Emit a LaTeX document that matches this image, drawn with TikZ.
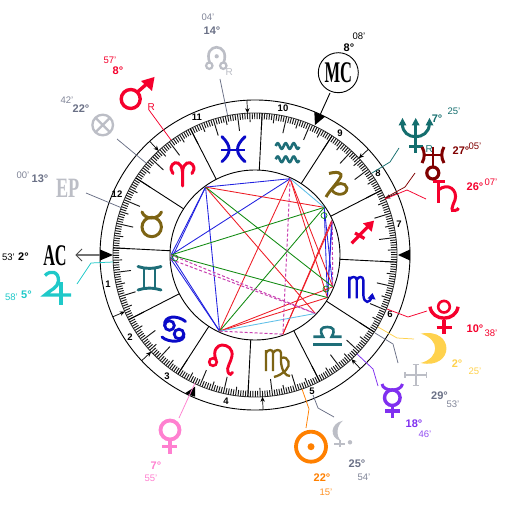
\documentclass[tikz,border=0pt]{standalone}
\usepackage{fontspec}
\setmainfont{Liberation Sans}
\newfontfamily\glyphserif{Liberation Serif}
\usetikzlibrary{arrows.meta}
\definecolor{zred}{HTML}{F5002D}
\definecolor{zbrown}{HTML}{7D6414}
\definecolor{zteal}{HTML}{1E6E78}
\definecolor{zblue}{HTML}{0A0AC8}
\definecolor{pgrey}{HTML}{BCBEC6}
\definecolor{lgrey}{HTML}{6A7086}
\definecolor{cyanj}{HTML}{1FC9C9}
\definecolor{pinkv}{HTML}{FF80D0}
\definecolor{orsun}{HTML}{FF8000}
\definecolor{violetm}{HTML}{8030F0}
\definecolor{yelmo}{HTML}{FFD24D}
\definecolor{tealn}{HTML}{146E6E}
\definecolor{darkur}{HTML}{800000}
\definecolor{aspred}{HTML}{EE1C25}
\definecolor{aspblue}{HTML}{2020E0}
\definecolor{aspgreen}{HTML}{108A10}
\definecolor{asplight}{HTML}{60C0E8}
\definecolor{aspmag}{HTML}{C840B0}
\tikzset{
  deg/.style={inner sep=0pt,font=\bfseries\fontsize{11}{11}\selectfont},
  mins/.style={inner sep=0pt,font=\fontsize{9.5}{9.5}\selectfont},
  house/.style={inner sep=0pt,font=\bfseries\fontsize{9.5}{9.5}\selectfont},
  retro/.style={inner sep=0pt,font=\fontsize{10}{10}\selectfont},
  signg/.style={line width=2.9pt,line cap=round},
  cuspline/.style={line width=.9pt,black},
  cuspmark/.style={line width=.7pt,black,-{Stealth[length=5pt,width=4.5pt]}},
  aspect/.style={line width=.85pt},
  leader/.style={line width=.75pt},
  tri/.style={fill=black,draw=none},
}
\begin{document}
\begin{tikzpicture}[x=1pt,y=-1pt]
\useasboundingbox (0,0) rectangle (510,510);
\fill[white] (0,0) rectangle (510,510);
\coordinate (ctr) at (255,255);
% === wheel (polar part) ===
\begin{scope}[shift={(255,255)},y=1pt]
  \draw[line width=.9pt] (0,0) circle[radius=155];
  \draw[line width=.8pt,black!80] (0,0) circle[radius=142];
  \draw[line width=.9pt] (0,0) circle[radius=85];
  \foreach \i in {0,...,359}{
    \pgfmathsetmacro{\ang}{117.117+\i}
    \pgfmathsetmacro{\rin}{mod(\i,10)==0?125:(mod(\i,5)==0?133:136)}
    \draw[line width=.95pt,black!90] (\ang:142) -- (\ang:\rin);
  }
  \foreach \i in {0,30,...,330}{
    \pgfmathsetmacro{\ang}{117.117+\i}
    \draw[cuspline] (\ang:85) -- (\ang:142);
  }
  \foreach \a in {203.5,223,273,312.8,23.5,43,93,132.8}{
    \coordinate (cusp-out) at (\a:155);
    \coordinate (cusp-in) at (\a:142);
    \draw[cuspmark] (cusp-out) -- (cusp-in);
  }
  % aspect points
  \foreach \n/\a in {mars/126.07,venus/245.04,sun/289.37,merc/315.89,moon/329.54,pluto/337.75,sat/23.24,ura/24.2,nep/34.54,mc/65.25,ac/180,jup/183.08}{
    \coordinate (\n) at (\a:84);
  }
\end{scope}
% angle triangles
\fill[tri] (100,249.5) -- (100,260.5) -- (113,255) -- cycle;
\fill[tri] (410,249.5) -- (410,260.5) -- (398,255) -- cycle;
\fill[tri] (314.3,111.7) -- (325,116.7) -- (315,125) -- cycle;
\fill[tri] (185,393.3) -- (195,386.7) -- (195,396.7) -- cycle;
% aspects
\foreach \p/\q in {mars/venus,mars/mc,mars/ac,mars/jup,mc/ac,ac/venus,jup/venus,nep/moon,ura/moon,sat/moon,nep/pluto}
  \draw[aspect,aspblue] (\p) -- (\q);
\foreach \p/\q in {mars/nep,mars/merc,mc/venus,mc/moon,mc/pluto,venus/moon,venus/pluto,sun/sat,sun/ura}
  \draw[aspect,aspred] (\p) -- (\q);
\foreach \p/\q in {nep/ac,ac/moon,nep/venus,mars/pluto}
  \draw[aspect,aspgreen] (\p) -- (\q);
\foreach \p/\q in {mc/nep,venus/merc}
  \draw[aspect,asplight] (\p) -- (\q);
\foreach \p/\q in {mc/sun,ac/merc,jup/merc,venus/sun,sat/pluto}
  \draw[line width=1pt,aspmag,dashed,dash pattern=on 3pt off 2pt] (\p) -- (\q);
\draw[aspgreen,line width=.7pt] (324,215.5) circle[radius=3];
\draw[aspgreen,line width=.7pt] (326,289) circle[radius=3];
\draw[aspgreen,line width=.7pt] (175,258) circle[radius=3];
% house numbers
\node[house] (h1) at (108,284) {1};
\node[house] (h2) at (130,337) {2};
\node[house] (h3) at (167,376) {3};
\node[house] (h4) at (226,401) {4};
\node[house] (h5) at (312,391) {5};
\node[house] (h6) at (390,314) {6};
\node[house] (h7) at (399,224) {7};
\node[house] (h8) at (378,173) {8};
\node[house] (h9) at (340,133) {9};
\node[house] (h10) at (283,108) {10};
\node[house] (h11) at (197,117) {11};
\node[house] (h12) at (117,194) {12};
% === zodiac signs ===
% Aries
\draw[signg,zred,line width=3pt] (182.5,186) -- (182.5,172) .. controls (182,162) and (175,161) .. (172.5,164.5) .. controls (170,168) and (171,171) .. (173,173.5);
\draw[signg,zred,line width=3pt] (182.5,172) .. controls (183,162) and (190,161) .. (192.5,164.5) .. controls (195,168) and (194,171) .. (192,173.5);
% Taurus
\draw[zbrown,line width=3pt] (151.7,227) circle[radius=9.7];
\draw[signg,zbrown,line width=3pt] (142,212) .. controls (145,220) and (158,220) .. (161.5,212);
% Gemini
\draw[signg,zteal] (138,266.5) .. controls (145,269) and (153,269) .. (161,266.5);
\draw[signg,zteal] (138,290) .. controls (145,287.5) and (153,287.5) .. (161,290);
\draw[signg,zteal] (144,268.5) -- (144,288) (155,268.5) -- (155,288);
% Cancer
\draw[zblue,line width=2.8pt] (169.5,325.5) circle[radius=4.8];
\draw[zblue,line width=2.8pt] (179,334) circle[radius=4.8];
\draw[signg,zblue] (185.5,321.5) .. controls (178,315) and (163,315) .. (164.7,326);
\draw[signg,zblue] (162,337) .. controls (168,343) and (186,343) .. (183.8,334);
% Leo
\draw[zred,line width=2.6pt] (213,362) circle[radius=3.8];
\draw[signg,zred] (216,360) .. controls (212,350) and (218,345) .. (222,345) .. controls (228,345) and (233,349) .. (232,356) .. controls (231,362) and (226,368) .. (228,372) .. controls (229,375) and (232,375) .. (232.5,372.5);
% Virgo
\draw[zbrown,line width=2.3pt] (266,350) -- (266,371) (266,353) .. controls (268,349) and (273,349) .. (273,353) -- (273,371) (273,353) .. controls (275,349) and (281,349) .. (281,353) -- (281,362) .. controls (282,372) and (286,376) .. (290,376);
\draw[zbrown,line width=2.3pt] (281,358) .. controls (289,355) and (291,366) .. (286,370) .. controls (282,374) and (278,376) .. (274,377);
% Libra
\draw[zteal,line width=2.6pt] (313.3,344.3) -- (341.7,344.3);
\draw[zteal,line width=2.6pt] (313.3,336.7) -- (323,336.7) .. controls (319,330) and (321,327) .. (327.3,327) .. controls (333.5,327) and (335.5,330) .. (331.7,336.7) -- (341.7,336.7);
% Scorpio
\draw[zblue,line width=2.4pt] (349.3,276.7) -- (349.3,298.3) (349.3,280) .. controls (351,276) and (356.7,276) .. (356.7,280) -- (356.7,298.3) (356.7,280) .. controls (358,276) and (363.3,276) .. (363.3,280) -- (363.3,295) .. controls (364,304) and (370,304) .. (372,296);
\fill[zblue] (372.5,293) -- (367.5,298.5) -- (375.5,299.5) -- cycle;
% Sagittarius
\draw[zred,line width=3.2pt] (351.7,243.3) -- (369,225.5) (355,233) -- (364.5,238.5);
\fill[zred] (374,220.7) -- (363,223.3) -- (371.7,231.7) -- cycle;
% Capricorn
\draw[zbrown,line width=3pt] (329,173.5) .. controls (336,171.5) and (344,172) .. (340,178) .. controls (335,186) and (330,190) .. (326,197);
\draw[zbrown,line width=2.8pt] (333,188) .. controls (336,182) and (346,182) .. (347,188) .. controls (347,196) and (335,196) .. (332,190);
% Aquarius
\draw[zteal,line width=2.6pt] plot[domain=275.7:299.3,samples=45] (\x,{146+2.8*sin(360*(\x-275.7)/8+180)});
\draw[zteal,line width=2.6pt] plot[domain=275.7:299.3,samples=45] (\x,{159.3+2.8*sin(360*(\x-275.7)/8+180)});
% Pisces
\draw[signg,zblue] (222,136.7) .. controls (231.5,146) and (231.5,153) .. (222,161.7);
\draw[signg,zblue] (245,136.7) .. controls (235,146) and (235,153) .. (245,161.7);
\draw[zblue,line width=2.8pt] (221,150) -- (245,150);
% === leaders ===
\coordinate (l-node-a) at (220,79);   \coordinate (l-node-b) at (227.5,115);
\draw[leader,lgrey] (l-node-a) -- (l-node-b);
\coordinate (l-mars-a) at (149,110);  \coordinate (l-mars-b) at (171,140);
\draw[leader,zred] (l-mars-a) -- (l-mars-b);
\coordinate (l-pf-a) at (117,139);    \coordinate (l-pf-b) at (146,163);
\draw[leader,lgrey] (l-pf-a) -- (l-pf-b);
\coordinate (l-ep-a) at (86,193);     \coordinate (l-ep-b) at (122,208);
\draw[leader,lgrey] (l-ep-a) -- (l-ep-b);
\coordinate (l-mc-a) at (330,93);     \coordinate (l-mc-b) at (320,115);
\draw[line width=.9pt,black] (l-mc-a) -- (l-mc-b);
\coordinate (l-nep-a) at (399,148);   \coordinate (l-nep-b) at (372,173);
\draw[leader,tealn] (l-nep-a) -- (390,162) -- (l-nep-b);
\coordinate (l-ura-a) at (415,173);   \coordinate (l-ura-b) at (385,198);
\draw[leader,darkur] (l-ura-a) -- (405,187) -- (l-ura-b);
\coordinate (l-sat-a) at (426,199);   \coordinate (l-sat-b) at (385,199);
\draw[leader,zred] (l-sat-a) -- (407,190) -- (l-sat-b);
\coordinate (l-plu-a) at (427,311);   \coordinate (l-plu-b) at (387,309);
\draw[leader,zred] (l-plu-a) -- (408,317) -- (l-plu-b);
\coordinate (l-moo-a) at (414,339);   \coordinate (l-moo-b) at (378,327);
\draw[leader,yelmo] (l-moo-a) -- (397,338) -- (l-moo-b);
\coordinate (l-ver-a) at (398,363);   \coordinate (l-ver-b) at (375,333);
\draw[leader,lgrey] (l-ver-a) -- (393,344) -- (l-ver-b);
\coordinate (l-mer-a) at (378,386);   \coordinate (l-mer-b) at (357,354);
\draw[leader,violetm] (l-mer-a) -- (373,369) -- (l-mer-b);
\coordinate (l-lil-a) at (334,417);   \coordinate (l-lil-b) at (313,395);
\draw[leader,lgrey] (l-lil-a) -- (318,408) -- (l-lil-b);
\coordinate (l-sun-a) at (306,428);   \coordinate (l-sun-b) at (302,389);
\draw[leader,orsun] (l-sun-a) -- (309,409) -- (l-sun-b);
\coordinate (l-ven-a) at (179,418);   \coordinate (l-ven-b) at (195,383);
\draw[leader,pinkv] (l-ven-a) -- (l-ven-b);
\coordinate (l-jup-a) at (77,284);    \coordinate (l-jup-b) at (113,262);
\draw[leader,cyanj] (l-jup-a) -- (91,263) -- (l-jup-b);
\coordinate (l-ac-a) at (100,255);    \coordinate (l-ac-b) at (76,255);
\draw[line width=1.4pt,black!55] (l-ac-a) -- (l-ac-b);
\draw[line width=.8pt,black!70] (82,249) -- (76,255) -- (82,261);
% === planet glyphs ===
% North node
\draw[pgrey,line width=2.6pt] (209.8,63) .. controls (202,42) and (231,42) .. (223.6,63);
\draw[pgrey,line width=2.2pt] (209.3,65.7) circle[radius=3.2] (223.3,65.7) circle[radius=3.2];
\fill[pgrey] (216.7,56.3) circle[radius=2.1];
\node[retro,text=pgrey] (rnode) at (229.3,71.7) {R};
% Mars
\draw[zred,line width=3.4pt] (130.7,99) circle[radius=9.5];
\draw[zred,line width=3.4pt] (137.5,92) -- (149,82);
\fill[zred] (154.5,77) -- (141,81) -- (152,91) -- cycle;
\node[retro,text=zred] (rmars) at (151.3,107.5) {R};
% Part of fortune
\draw[pgrey,line width=2.3pt] (102.7,125) circle[radius=10.3];
\draw[pgrey,line width=2.3pt] (95.5,117.8) -- (110,132.2) (110,117.8) -- (95.5,132.2);
% EP
\node[inner sep=0pt,text=pgrey,xscale=.65,font=\glyphserif\bfseries\fontsize{28}{28}\selectfont] (ep) at (67.7,188) {EP};
% MC
\draw[line width=.9pt] (338.3,72.7) circle[radius=20];
\node[inner sep=0pt,xscale=.55,font=\glyphserif\bfseries\fontsize{30}{30}\selectfont] (mctxt) at (338.3,73) {MC};
% AC
\node[inner sep=0pt,xscale=.54,font=\glyphserif\bfseries\fontsize{30}{30}\selectfont] (actxt) at (55,256) {AC};
% Jupiter
\draw[cyanj,line width=3.3pt] (45,275.5) .. controls (50,270) and (59,271) .. (58.5,281) .. controls (58,288) and (50,290) .. (45,295) -- (71,295);
\draw[cyanj,line width=3.3pt] (61,282) -- (61,305);
% Venus
\draw[pinkv,line width=3.8pt] (170,430) circle[radius=9.5];
\draw[pinkv,line width=3.2pt] (170,440) -- (170,454) (162.3,446.7) -- (177.3,446.7);
% Sun
\draw[orsun,line width=3.8pt] (311,446.7) circle[radius=15];
\fill[orsun] (311,446.7) circle[radius=3.5];
% Lilith
\fill[pgrey] (343,420.7) .. controls (330,423) and (329,438) .. (341,441) .. controls (336,436) and (336,426) .. (343,420.7) -- cycle;
\draw[pgrey,line width=2pt] (334,444.3) -- (345,444.3) (339.7,440) -- (339.7,446.7);
\fill[pgrey] (350,442.3) circle[radius=2.2];
% Mercury
\draw[violetm,line width=3.4pt] (392.3,397.7) circle[radius=7.8];
\draw[violetm,line width=3pt] (382,384) .. controls (383,392) and (401,392) .. (402.5,384);
\draw[violetm,line width=3.2pt] (392.3,406) -- (392.3,417.7) (385,411) -- (400,411);
% Moon
\fill[yelmo] (420.7,333.7) .. controls (455,327) and (455,370) .. (420.7,363) .. controls (440,358) and (440,339) .. (420.7,333.7) -- cycle;
% Pluto
\draw[zred,line width=2.6pt] (444,306.7) circle[radius=5.8];
\draw[zred,line width=3.4pt] (430,306.7) .. controls (432,322) and (456,322) .. (458,306.7);
\draw[zred,line width=3.2pt] (444,320) -- (444,334.3) (436.7,327.7) -- (451.7,327.7);
% Vertex cross
\draw[pgrey,line width=1.8pt] (415.7,364.5) -- (415.7,385.5) (405,375) -- (426.5,375) (412.7,364.5) -- (418.7,364.5) (412.7,385.5) -- (418.7,385.5) (405,372) -- (405,378) (426.5,372) -- (426.5,378);
% Neptune
\draw[tealn,line width=3pt] (415.7,124) -- (415.7,152.7) (409,146.7) -- (423,146.7);
\draw[tealn,line width=3pt] (402.5,124) .. controls (402,141) and (429,141) .. (429.3,124);
\fill[tealn] (402.5,118) -- (398.5,125.5) -- (406.5,125.5) -- cycle;
\fill[tealn] (415.7,118) -- (411.7,125.5) -- (419.7,125.5) -- cycle;
\fill[tealn] (429.5,118) -- (425.5,125.5) -- (433.5,125.5) -- cycle;
\node[retro,text=tealn] (rnep) at (429.3,149.3) {R};
% Uranus
\draw[darkur,line width=3pt] (422,147) .. controls (425,152) and (425,158) .. (422,163) (444,147) .. controls (441,152) and (441,158) .. (444,163);
\draw[darkur,line width=2.6pt] (424,155) -- (442,155) (432.8,147) -- (432.8,167);
\draw[darkur,line width=3.2pt] (432.8,173) circle[radius=6];
% Saturn
\draw[zred,line width=3pt] (438.3,180) -- (438.3,202.7) (433,181.7) -- (445,181.7);
\draw[zred,line width=3pt] (438.3,190) .. controls (448,182) and (458,190) .. (455,200) .. controls (452,207) and (450,212) .. (455,210.5) .. controls (457,210) and (458,209.7) .. (458.5,208);
% === labels ===
\node[deg,text=lgrey] (dnode) at (212,31) {14°};
\node[mins,text=lgrey!85] (mnode) at (208,17) {04'};
\node[deg,text=zred] (dmars) at (118,71) {8°};
\node[mins,text=zred] (mmars) at (110,60) {57'};
\node[deg,text=lgrey] (dpf) at (81,109) {22°};
\node[mins,text=lgrey!85] (mpf) at (67,100) {42'};
\node[deg,text=lgrey] (dep) at (40,179) {13°};
\node[mins,text=lgrey!85] (mep) at (23,175) {00'};
\node[deg,text=black] (dac) at (23.5,257) {2°};
\node[mins,text=black] (mac) at (8.5,257) {53'};
\node[deg,text=cyanj] (djup) at (26.5,295) {5°};
\node[mins,text=cyanj] (mjup) at (11.5,297.5) {58'};
\node[deg,text=pinkv] (dven) at (156,466) {7°};
\node[mins,text=pinkv] (mven) at (151,478) {55'};
\node[deg,text=orsun] (dsun) at (322,478) {22°};
\node[mins,text=orsun!85] (msun) at (326,492) {15'};
\node[deg,text=lgrey] (dlil) at (357,464) {25°};
\node[mins,text=lgrey!85] (mlil) at (364,477) {54'};
\node[deg,text=violetm] (dmer) at (414,424) {18°};
\node[mins,text=violetm!85] (mmer) at (425,434) {46'};
\node[deg,text=lgrey] (dver) at (439.5,396) {29°};
\node[mins,text=lgrey!85] (mver) at (453,404) {53'};
\node[deg,text=yelmo] (dmoo) at (457,364) {2°};
\node[mins,text=yelmo] (mmoo) at (475,371) {25'};
\node[deg,text=zred] (dplu) at (475,329) {10°};
\node[mins,text=zred] (mplu) at (491,333) {38'};
\node[deg,text=zred] (dsat) at (475,187) {26°};
\node[mins,text=zred] (msat) at (491,182) {07'};
\node[deg,text=darkur] (dura) at (461,151) {27°};
\node[mins,text=darkur] (mura) at (475,146) {05'};
\node[deg,text=tealn] (dnep) at (437,119) {7°};
\node[mins,text=tealn] (mnep) at (454,111) {25'};
\node[deg,text=black] (dmc) at (349,48) {8°};
\node[mins,text=black] (mmc) at (359,36) {08'};
\end{tikzpicture}
\end{document}
